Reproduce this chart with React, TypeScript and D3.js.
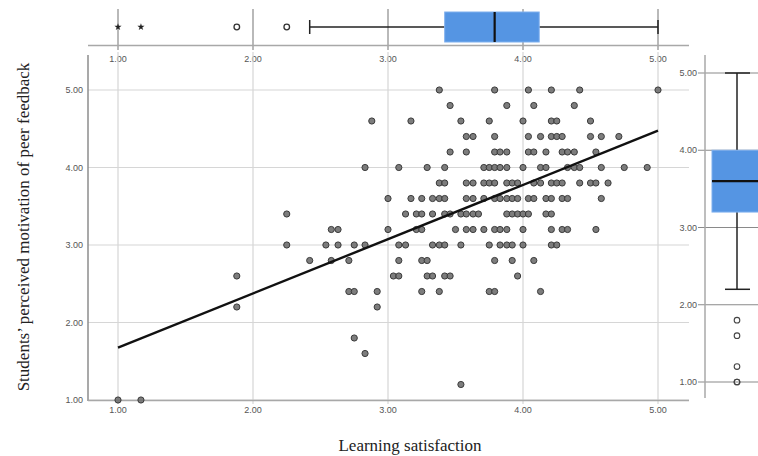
import React from 'react';
import * as d3 from 'd3';

// motivation levels (y) and the learning-satisfaction scores (x) observed at each level
const motivationLevels = [5.0, 4.8, 4.6, 4.4, 4.2, 4.0, 3.8, 3.6, 3.4, 3.2, 3.0, 2.8, 2.6, 2.4, 2.2, 1.8, 1.6, 1.2, 1.0];
const satisfactionByLevel = [
  [3.38, 3.79, 4.04, 4.21, 4.42, 5.0],
  [3.46, 3.88, 4.08, 4.38],
  [2.88, 3.17, 3.54, 3.75, 4.0, 4.21, 4.25, 4.5],
  [3.58, 3.63, 3.79, 4.04, 4.13, 4.21, 4.25, 4.29, 4.5, 4.58, 4.71],
  [3.46, 3.58, 3.79, 3.83, 3.88, 4.04, 4.08, 4.17, 4.29, 4.33, 4.38, 4.54],
  [2.83, 3.08, 3.29, 3.42, 3.71, 3.75, 3.79, 3.83, 3.88, 4.0, 4.13, 4.17, 4.33, 4.38, 4.42, 4.58, 4.75, 4.92],
  [3.38, 3.42, 3.58, 3.63, 3.71, 3.75, 3.79, 3.88, 3.92, 3.96, 4.08, 4.13, 4.21, 4.25, 4.29, 4.42, 4.5, 4.54, 4.63],
  [3.0, 3.17, 3.25, 3.33, 3.38, 3.42, 3.58, 3.63, 3.71, 3.79, 3.83, 3.88, 3.92, 3.96, 4.04, 4.08, 4.17, 4.21, 4.29, 4.33, 4.58],
  [2.25, 3.13, 3.21, 3.25, 3.33, 3.42, 3.46, 3.54, 3.58, 3.63, 3.67, 3.88, 3.92, 3.96, 4.0, 4.04, 4.17, 4.21],
  [2.58, 2.63, 3.0, 3.21, 3.25, 3.5, 3.58, 3.63, 3.71, 3.79, 3.83, 3.88, 4.0, 4.21, 4.29, 4.33, 4.54],
  [2.25, 2.54, 2.63, 2.75, 2.83, 3.08, 3.13, 3.33, 3.38, 3.42, 3.54, 3.75, 3.83, 3.88, 3.92, 4.0, 4.21, 4.25],
  [2.42, 2.58, 2.71, 3.08, 3.25, 3.29, 3.79, 3.92, 4.08],
  [1.88, 3.04, 3.08, 3.29, 3.33, 3.42, 3.46, 3.96],
  [2.71, 2.75, 2.92, 3.25, 3.38, 3.75, 3.79, 4.13],
  [1.88, 2.92],
  [2.75],
  [2.83],
  [3.54],
  [1.0, 1.17],
];

// fit line end points [x, y]
const fitLine = [[1.0, 1.675], [5.0, 4.475]];

// box plot of learning satisfaction: whisker low, Q1, median, Q3, whisker high
const satBoxStats = [2.42, 3.42, 3.79, 4.12, 5.0];
const satOutliers = [1.88, 2.25];
const satExtremes = [1.0, 1.17];

// box plot of motivation
const motBoxStats = [2.2, 3.2, 3.6, 4.0, 5.0];
const motOutliers = [1.8, 1.6, 1.2, 1.0, 1.0];

const ticks = [1, 2, 3, 4, 5];

const W = 758, H = 456;
const boxBlue = '#5595e3';
const tickFont = { fontFamily: '"Liberation Sans", Arial, sans-serif', fontSize: 9, fill: '#555' };
const titleFont = { fontFamily: '"Liberation Serif", "Times New Roman", serif', fontSize: 17, fill: '#222' };

export default function App() {
  const x = d3.scaleLinear().domain([1, 5]).range([118, 658]);
  const y = d3.scaleLinear().domain([1, 5]).range([400, 90]);
  const yr = d3.scaleLinear().domain([1, 5]).range([382, 73]);
  const fmt = d3.format('.2f');

  const points = motivationLevels.flatMap((m, i) => satisfactionByLevel[i].map(s => [s, m]));
  const line = d3.line<number[]>().x(d => x(d[0])).y(d => y(d[1]));
  const star = d3.symbol().type(d3.symbolStar).size(16)();

  const [sLo, sQ1, sMed, sQ3, sHi] = satBoxStats;
  const [mLo, mQ1, mMed, mQ3, mHi] = motBoxStats;
  const topY = 27;
  const rightX = 737;

  return (
    <svg width={W} height={H} style={{ position: 'absolute', left: 0, top: 0, background: '#fff' }}>
      {/* ---- top box plot ---- */}
      <g>
        {ticks.map(t => (
          <line key={t} x1={x(t)} x2={x(t)} y1={9} y2={50} stroke="#8a8a8a" strokeWidth={1.2} />
        ))}
        <line x1={88} x2={689} y1={45.5} y2={45.5} stroke="#a8a8a8" strokeWidth={1.5} />
        {ticks.map(t => (
          <text key={t} x={x(t)} y={62} textAnchor="middle" {...tickFont}>{fmt(t)}</text>
        ))}
        <line x1={x(sLo)} x2={x(sQ1)} y1={topY} y2={topY} stroke="#222" strokeWidth={1.5} />
        <line x1={x(sQ3)} x2={x(sHi)} y1={topY} y2={topY} stroke="#222" strokeWidth={1.5} />
        <line x1={x(sLo)} x2={x(sLo)} y1={topY - 7} y2={topY + 7} stroke="#222" strokeWidth={1.5} />
        <line x1={x(sHi)} x2={x(sHi)} y1={topY - 7} y2={topY + 7} stroke="#222" strokeWidth={1.5} />
        <rect x={x(sQ1)} y={12} width={x(sQ3) - x(sQ1)} height={30} fill={boxBlue} stroke="#7fb0ee" strokeWidth={1} />
        <line x1={x(sMed)} x2={x(sMed)} y1={12} y2={42} stroke="#111" strokeWidth={2.2} />
        {satOutliers.map((v, i) => (
          <circle key={i} cx={x(v)} cy={topY} r={2.8} fill="#fff" stroke="#333" strokeWidth={1.3} />
        ))}
        {satExtremes.map((v, i) => (
          <path key={i} d={star} transform={`translate(${x(v)},${topY})`} fill="#222" />
        ))}
      </g>

      {/* ---- main scatter ---- */}
      <g>
        {ticks.map(t => (
          <line key={'v' + t} x1={x(t)} x2={x(t)} y1={52} y2={404} stroke="#d6d6d6" strokeWidth={1.2} />
        ))}
        {ticks.map(t => (
          <line key={'h' + t} x1={88} x2={689} y1={y(t)} y2={y(t)} stroke="#d6d6d6" strokeWidth={1.2} />
        ))}
        <line x1={88} x2={88} y1={55} y2={401} stroke="#8c8c8c" strokeWidth={1.5} />
        <line x1={88} x2={689} y1={400.5} y2={400.5} stroke="#a8a8a8" strokeWidth={1.5} />
        {ticks.map(t => (
          <text key={'xl' + t} x={x(t)} y={413} textAnchor="middle" {...tickFont}>{fmt(t)}</text>
        ))}
        {ticks.map(t => (
          <text key={'yl' + t} x={83} y={y(t) + 3} textAnchor="end" {...tickFont}>{fmt(t)}</text>
        ))}
        {points.map((p, i) => (
          <circle key={i} cx={x(p[0])} cy={y(p[1])} r={3.1} fill="#6f6f6f" stroke="#3a3a3a" strokeWidth={1} fillOpacity={0.9} />
        ))}
        <path d={line(fitLine) || ''} stroke="#111" strokeWidth={2.4} fill="none" />
        <text x={410} y={451} textAnchor="middle" {...titleFont}>Learning satisfaction</text>
        <text transform="translate(29,227) rotate(-90)" textAnchor="middle" {...titleFont}>
          Students’ perceived motivation of peer feedback
        </text>
      </g>

      {/* ---- right box plot ---- */}
      <g>
        {ticks.map(t => (
          <line key={t} x1={698} x2={W} y1={yr(t)} y2={yr(t)} stroke="#8a8a8a" strokeWidth={1.2} />
        ))}
        <line x1={705} x2={705} y1={55} y2={398} stroke="#a8a8a8" strokeWidth={1.5} />
        {ticks.map(t => (
          <text key={'l' + t} x={697} y={yr(t) + 3} textAnchor="end" {...tickFont}>{fmt(t)}</text>
        ))}
        <line x1={rightX} x2={rightX} y1={yr(mHi)} y2={yr(mQ3)} stroke="#222" strokeWidth={1.5} />
        <line x1={rightX} x2={rightX} y1={yr(mQ1)} y2={yr(mLo)} stroke="#222" strokeWidth={1.5} />
        <line x1={725} x2={750} y1={yr(mHi)} y2={yr(mHi)} stroke="#222" strokeWidth={1.5} />
        <line x1={725} x2={750} y1={yr(mLo)} y2={yr(mLo)} stroke="#222" strokeWidth={1.5} />
        <rect x={712} y={yr(mQ3)} width={W - 712 + 2} height={yr(mQ1) - yr(mQ3)} fill={boxBlue} stroke="#7fb0ee" strokeWidth={1} />
        <line x1={712} x2={W} y1={yr(mMed)} y2={yr(mMed)} stroke="#111" strokeWidth={2.2} />
        {motOutliers.map((v, i) => (
          <circle key={i} cx={rightX} cy={yr(v)} r={2.8} fill="#fff" fillOpacity={0} stroke="#444" strokeWidth={1.1} />
        ))}
      </g>
    </svg>
  );
}
